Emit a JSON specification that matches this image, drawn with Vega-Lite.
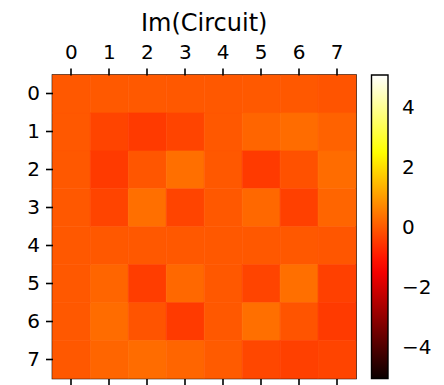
{
  "$schema": "https://vega.github.io/schema/vega-lite/v6.json",
  "autosize": "none",
  "width": 303.5,
  "height": 303.5,
  "padding": {"left": 52.5, "top": 75, "right": 88, "bottom": 6.5},
  "background": "white",
  "title": {"text": "Im(Circuit)", "font": "DejaVu Sans", "fontSize": 24, "fontWeight": "normal", "color": "black", "anchor": "middle", "offset": 6},
  "data": {"values": [
    {"row": 0, "col": 0, "v": 0}, {"row": 0, "col": 1, "v": 0.02}, {"row": 0, "col": 2, "v": 0.02}, {"row": 0, "col": 3, "v": 0}, {"row": 0, "col": 4, "v": 0}, {"row": 0, "col": 5, "v": 0.02}, {"row": 0, "col": 6, "v": 0}, {"row": 0, "col": 7, "v": -0.05},
    {"row": 1, "col": 0, "v": 0}, {"row": 1, "col": 1, "v": -0.3}, {"row": 1, "col": 2, "v": -0.45}, {"row": 1, "col": 3, "v": -0.3}, {"row": 1, "col": 4, "v": 0}, {"row": 1, "col": 5, "v": 0.2}, {"row": 1, "col": 6, "v": 0.3}, {"row": 1, "col": 7, "v": 0.15},
    {"row": 2, "col": 0, "v": 0}, {"row": 2, "col": 1, "v": -0.45}, {"row": 2, "col": 2, "v": -0.02}, {"row": 2, "col": 3, "v": 0.35}, {"row": 2, "col": 4, "v": 0}, {"row": 2, "col": 5, "v": -0.45}, {"row": 2, "col": 6, "v": -0.1}, {"row": 2, "col": 7, "v": 0.3},
    {"row": 3, "col": 0, "v": 0}, {"row": 3, "col": 1, "v": -0.3}, {"row": 3, "col": 2, "v": 0.35}, {"row": 3, "col": 3, "v": -0.3}, {"row": 3, "col": 4, "v": 0}, {"row": 3, "col": 5, "v": 0.25}, {"row": 3, "col": 6, "v": -0.35}, {"row": 3, "col": 7, "v": 0.2},
    {"row": 4, "col": 0, "v": 0}, {"row": 4, "col": 1, "v": 0}, {"row": 4, "col": 2, "v": 0}, {"row": 4, "col": 3, "v": 0}, {"row": 4, "col": 4, "v": 0}, {"row": 4, "col": 5, "v": 0}, {"row": 4, "col": 6, "v": 0}, {"row": 4, "col": 7, "v": -0.03},
    {"row": 5, "col": 0, "v": 0}, {"row": 5, "col": 1, "v": 0.2}, {"row": 5, "col": 2, "v": -0.4}, {"row": 5, "col": 3, "v": 0.25}, {"row": 5, "col": 4, "v": 0}, {"row": 5, "col": 5, "v": -0.3}, {"row": 5, "col": 6, "v": 0.35}, {"row": 5, "col": 7, "v": -0.35},
    {"row": 6, "col": 0, "v": 0}, {"row": 6, "col": 1, "v": 0.3}, {"row": 6, "col": 2, "v": -0.05}, {"row": 6, "col": 3, "v": -0.45}, {"row": 6, "col": 4, "v": 0}, {"row": 6, "col": 5, "v": 0.35}, {"row": 6, "col": 6, "v": -0.05}, {"row": 6, "col": 7, "v": -0.45},
    {"row": 7, "col": 0, "v": 0}, {"row": 7, "col": 1, "v": 0.2}, {"row": 7, "col": 2, "v": 0.3}, {"row": 7, "col": 3, "v": 0.2}, {"row": 7, "col": 4, "v": 0.05}, {"row": 7, "col": 5, "v": -0.25}, {"row": 7, "col": 6, "v": -0.35}, {"row": 7, "col": 7, "v": -0.3}
  ]},
  "layer": [
    {
      "mark": {"type": "rect", "strokeWidth": 0.6, "stroke": {"expr": "scale('color', datum.v)"}},
      "encoding": {
        "x": {"field": "col", "type": "ordinal", "axis": {"orient": "top", "title": null, "labelAngle": 0}},
        "y": {"field": "row", "type": "ordinal", "axis": {"orient": "left", "title": null}},
        "color": {
          "field": "v", "type": "quantitative",
          "scale": {"domain": [-5.0, -1.32, 2.52, 5.08], "range": ["#0b0000", "#ff0000", "#ffff00", "#ffffff"], "interpolate": "rgb"},
          "legend": {"title": null, "type": "gradient", "values": [-4, -2, 0, 2, 4], "gradientLength": 303.5, "gradientThickness": 16.5, "gradientStrokeColor": "black", "gradientStrokeWidth": 1.4, "labelFont": "DejaVu Sans", "labelFontSize": 20, "labelColor": "black", "labelOffset": 14, "offset": 15, "direction": "vertical", "orient": "right", "labelOverlap": false, "padding": 0}
        }
      }
    },
    {
      "mark": {"type": "rect", "opacity": 0},
      "encoding": {
        "x": {"field": "col", "type": "ordinal", "axis": {"orient": "bottom", "title": null, "labels": false}},
        "y": {"field": "row", "type": "ordinal"}
      }
    }
  ],
  "resolve": {"axis": {"x": "independent"}},
  "config": {
    "view": {"stroke": "black", "strokeWidth": 1.6},
    "axis": {"domain": false, "ticks": true, "tickSize": 7, "tickWidth": 1.6, "tickColor": "black", "labelFont": "DejaVu Sans", "labelFontSize": 20, "labelColor": "black", "labelPadding": 6, "grid": false}
  }
}
